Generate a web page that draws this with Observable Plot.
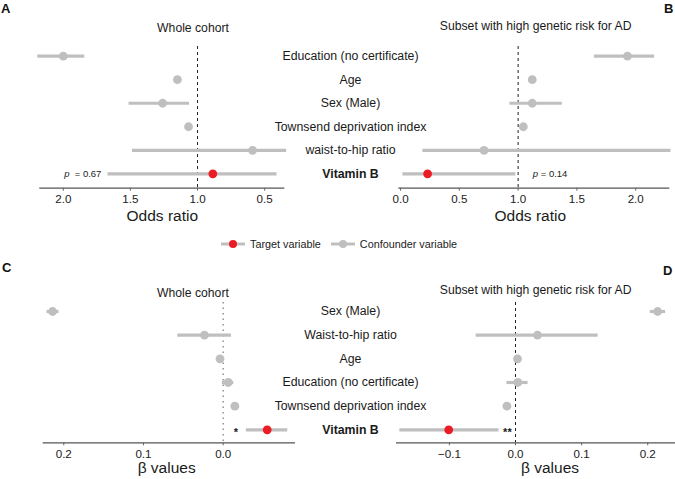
<!DOCTYPE html>
<html><head><meta charset="utf-8">
<script src="https://cdn.jsdelivr.net/npm/d3@7"></script>
<script src="https://cdn.jsdelivr.net/npm/@observablehq/plot@0.6"></script>
<style>
body{margin:0;background:#fff;font-family:"Liberation Sans",Arial,sans-serif;}
#root{position:relative;width:675px;height:479px;overflow:hidden;background:#fff;}
.pl{position:absolute;}
.letter{position:absolute;font-weight:bold;font-size:13px;line-height:13px;color:#111;}
#legend{position:absolute;top:238px;left:221px;display:flex;align-items:center;font-size:10.8px;color:#222;}
#legend .item{display:flex;align-items:center;margin-right:10px;}
#legend svg{margin-right:5px;}
</style></head><body><div id="root"></div>
<script>
// ---------- data ----------
const topLabels = ["Education (no certificate)", "Age", "Sex (Male)", "Townsend deprivation index", "waist-to-hip ratio", "Vitamin B"];
const bottomLabels = ["Sex (Male)", "Waist-to-hip ratio", "Age", "Education (no certificate)", "Townsend deprivation index", "Vitamin B"];

// Panel A: whole cohort, odds ratios
const orWhole    = [2.00, 1.15, 1.26, 1.067, 0.59, 0.886];
const orWholeLo  = [1.84, 1.14, 1.06, 1.060, 0.336, 0.408];
const orWholeHi  = [2.19, 1.16, 1.51, 1.075, 1.485, 1.667];
// Panel B: high genetic risk subset, odds ratios
const orRisk     = [1.93, 1.12, 1.12, 1.044, 0.71, 0.23];
const orRiskLo   = [1.65, 1.11, 0.93, 1.035, 0.19, 0.02];
const orRiskHi   = [2.16, 1.13, 1.376, 1.055, 2.30, 0.98];
// Panel C: whole cohort, beta values
const betaWhole   = [0.214, 0.0235, 0.004, -0.0063, -0.0146, -0.0552];
const betaWholeLo = [0.206, -0.0104, 0.002, -0.0133, -0.0160, -0.081];
const betaWholeHi = [0.221, 0.057, 0.006, 0.001, -0.0130, -0.029];
// Panel D: high genetic risk subset, beta values
const betaRisk    = [0.215, 0.0333, 0.003, 0.0035, -0.013, -0.101];
const betaRiskLo  = [0.204, -0.0595, 0.001, -0.013, -0.015, -0.175];
const betaRiskHi  = [0.227, 0.125, 0.005, 0.019, -0.011, -0.025];

const ticksA = [2.0, 1.5, 1.0, 0.5];
const ticksB = [0.0, 0.5, 1.0, 1.5, 2.0];
const ticksC = [0.2, 0.1, 0.0];
const ticksD = [-0.1, 0.0, 0.1, 0.2];

const refOR = 1;
const refBeta = 0;

const pWhole = "0.67";
const pRisk = "0.14";
const sigWhole = "*";
const sigRisk = "**";

const titles = ["Whole cohort", "Subset with high genetic risk for AD"];
const axisTitles = ["Odds ratio", "\u03b2 values"];
const letters = ["A", "B", "C", "D"];
const legendLabels = ["Target variable", "Confounder variable"];
const legendColors = ["#ec1c24", "#bfbfbf"];

const RED = "#ec1c24", GREY = "#bfbfbf", TXT = "#1a1a1a";
const FONT = "Liberation Sans, Arial, sans-serif";
const root = document.getElementById("root");

function place(el, left, top) {
  el.classList.add("pl");
  el.style.left = left + "px";
  el.style.top = top + "px";
  root.appendChild(el);
}

// row geometry: y is the row index; the domain runs from the axis line (bottom) to the panel top
const topH = 225, topMT = 46, topMB = 37.3, topYDomain = [5.612, -0.412];
const botH = 239, botMT = 62, botMB = 36.7, botYDomain = [5.549, -0.380];

function forest(cfg) {
  const data = cfg.labels.map((label, i) => ({
    label, row: i, est: cfg.est[i], lo: cfg.lo[i], hi: cfg.hi[i], target: label === "Vitamin B"
  }));
  const vit = data.filter(d => d.target);
  const marks = [
    Plot.ruleX([cfg.ref], {stroke: cfg.refColor, strokeWidth: cfg.refWidth, strokeDasharray: cfg.refDash}),
    Plot.ruleY(data, {y: "row", x1: "lo", x2: "hi", stroke: GREY, strokeWidth: 3.2}),
    Plot.dot(data.filter(d => !d.target), {x: "est", y: "row", r: 4.4, fill: GREY}),
    Plot.dot(vit, {x: "est", y: "row", r: 4.4, fill: RED}),
    Plot.ruleY([cfg.yDomain[0]], {stroke: "#555", strokeWidth: 1.2}),
    Plot.axisX({ticks: cfg.ticks, tickFormat: ".1f", tickSize: 3, tickPadding: 4, fontSize: 11.6, label: null, stroke: "#666"}),
    Plot.text([cfg.title], {frameAnchor: "top", dx: cfg.titleDx, dy: cfg.titleDy, fontSize: 12.2, fill: TXT}),
    Plot.text([cfg.axisTitle], {frameAnchor: "bottom", dx: cfg.axDx, dy: cfg.axDy, fontSize: 15.5, fill: TXT}),
  ];
  if (cfg.p) {
    const eqW = (cfg.p.length * 0.556 + 0.584 + 0.278) * 9.5;
    const pW = (0.556 + 0.278) * 9.5;
    if (cfg.pAnchor === "end") {
      marks.push(Plot.text(vit, {x: "hi", y: "row", text: () => "= " + cfg.p, textAnchor: "end", dx: cfg.pDx, fontSize: 9.5, fill: TXT}));
      marks.push(Plot.text(vit, {x: "hi", y: "row", text: () => "p", textAnchor: "end", dx: cfg.pDx - eqW - 2.6, fontSize: 9.5, fontStyle: "italic", fill: TXT}));
    } else {
      marks.push(Plot.text(vit, {x: "hi", y: "row", text: () => "p", textAnchor: "start", dx: cfg.pDx, fontSize: 9.5, fontStyle: "italic", fill: TXT}));
      marks.push(Plot.text(vit, {x: "hi", y: "row", text: () => "= " + cfg.p, textAnchor: "start", dx: cfg.pDx + pW, fontSize: 9.5, fill: TXT}));
    }
  }
  if (cfg.sig) {
    marks.push(Plot.text(vit, {x: "hi", y: "row", text: () => cfg.sig, textAnchor: "middle", dx: cfg.sigDx, dy: 3, fontSize: 11, fontWeight: "bold", fill: TXT}));
  }
  return Plot.plot({
    width: cfg.width, height: cfg.height,
    marginLeft: cfg.mL, marginRight: cfg.mR, marginTop: cfg.mT, marginBottom: cfg.mB,
    style: {background: "none", fontFamily: FONT, color: TXT, overflow: "visible"},
    x: {domain: cfg.domain},
    y: {domain: cfg.yDomain, axis: null},
    marks
  });
}

function labelColumn(labels, height, mT, mB, yDomain) {
  const rows = labels.map((label, row) => ({label, row}));
  return Plot.plot({
    width: 150, height, marginLeft: 0, marginRight: 0, marginTop: mT, marginBottom: mB,
    style: {background: "none", fontFamily: FONT, color: TXT, overflow: "visible"},
    y: {domain: yDomain, axis: null},
    marks: [
      Plot.text(rows.filter(d => d.label !== "Vitamin B"), {y: "row", text: "label", fontSize: 12.3, fill: TXT}),
      Plot.text(rows.filter(d => d.label === "Vitamin B"), {y: "row", text: "label", fontSize: 12.3, fontWeight: "bold", fill: TXT})
    ]
  });
}

place(forest({
  labels: topLabels, est: orWhole, lo: orWholeLo, hi: orWholeHi,
  domain: [2.175, 0.35], ticks: ticksA, width: 300, height: topH, mL: 39.3, mR: 15.7, mT: topMT, mB: topMB, yDomain: topYDomain,
  ref: refOR, refColor: "#222", refWidth: 1, refDash: "3,3",
  title: titles[0], titleDx: 30.7, titleDy: -23.3, axisTitle: axisTitles[0], axDx: 0, axDy: 32.5,
  p: pWhole, pAnchor: "end", pDx: -6.6
}), 0, 0);

place(forest({
  labels: topLabels, est: orRisk, lo: orRiskLo, hi: orRiskHi,
  domain: [-0.015, 2.29], ticks: ticksB, width: 315, height: topH, mL: 38.3, mR: 5.7, mT: topMT, mB: topMB, yDomain: topYDomain,
  ref: refOR, refColor: "#222", refWidth: 1, refDash: "3,3",
  title: titles[1], titleDx: 1.4, titleDy: -25, axisTitle: axisTitles[0], axDx: -4, axDy: 32.5,
  p: pRisk, pAnchor: "start", pDx: 17
}), 360, 0);

place(labelColumn(topLabels, topH, topMT, topMB, topYDomain), 275, 0);

place(forest({
  labels: bottomLabels, est: betaWhole, lo: betaWholeLo, hi: betaWholeHi,
  domain: [0.2258, -0.0907], ticks: ticksC, width: 310, height: botH, mL: 42.7, mR: 15, mT: botMT, mB: botMB, yDomain: botYDomain,
  ref: refBeta, refColor: "#999", refWidth: 1.6, refDash: "1.5,4",
  title: titles[0], titleDx: 23.6, titleDy: -14.3, axisTitle: axisTitles[1], axDx: -2.7, axDy: 30.5,
  sig: sigWhole, sigDx: -10.3
}), 0, 240);

place(forest({
  labels: bottomLabels, est: betaRisk, lo: betaRiskLo, hi: betaRiskHi,
  domain: [-0.18, 0.242], ticks: ticksD, width: 315, height: botH, mL: 36, mR: 0, mT: botMT, mB: botMB, yDomain: botYDomain,
  ref: refBeta, refColor: "#222", refWidth: 1, refDash: "3,3",
  title: titles[1], titleDx: -0.3, titleDy: -17, axisTitle: axisTitles[1], axDx: 14, axDy: 30.5,
  sig: sigRisk, sigDx: 8.4
}), 360, 240);

place(labelColumn(bottomLabels, botH, botMT, botMB, botYDomain), 275, 240);

// panel letters
const letterPos = [[1, 2], [664, 2], [2, 261], [663, 264]];
letters.forEach((t, i) => {
  const d = document.createElement("div");
  d.className = "letter";
  d.textContent = t;
  d.style.left = letterPos[i][0] + "px";
  d.style.top = letterPos[i][1] + "px";
  root.appendChild(d);
});

// legend
const leg = document.createElement("div");
leg.id = "legend";
legendLabels.forEach((lab, i) => {
  const it = document.createElement("div");
  it.className = "item";
  it.innerHTML = `<svg width="24" height="12"><line x1="0" x2="24" y1="6" y2="6" stroke="${GREY}" stroke-width="3"/><circle cx="12" cy="6" r="4" fill="${legendColors[i]}"/></svg><span>${lab}</span>`;
  leg.appendChild(it);
});
root.appendChild(leg);
</script>
</body></html>
